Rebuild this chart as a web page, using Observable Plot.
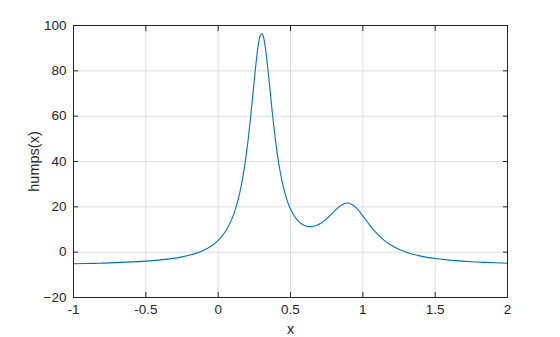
<!DOCTYPE html>
<html>
<head>
<meta charset="utf-8">
<script src="https://cdn.jsdelivr.net/npm/d3@7"></script>
<script src="https://cdn.jsdelivr.net/npm/@observablehq/plot@0.6"></script>
<style>
  html, body { margin: 0; padding: 0; background: #fff; }
  #chart { width: 560px; height: 337px; }
</style>
</head>
<body>
<div id="chart"></div>
<script>
const xs = [-1, -0.85, -0.75, -0.5, -0.4, -0.3, -0.25, -0.2, -0.15, -0.1, -0.05, 0, 0.05, 0.1, 0.125, 0.15, 0.175, 0.2, 0.225, 0.25, 0.275, 0.29, 0.3, 0.31, 0.325, 0.35, 0.375, 0.4, 0.425, 0.45, 0.475, 0.5, 0.55, 0.6, 0.65, 0.7, 0.75, 0.8, 0.85, 0.9, 0.95, 1.0, 1.05, 1.1, 1.15, 1.2, 1.25, 1.3, 1.4, 1.5, 1.6, 1.75, 1.85, 2.0];
const ys = [-5.14, -4.93, -4.74, -3.96, -3.42, -2.62, -2.07, -1.35, -0.42, 0.84, 2.61, 5.18, 9.11, 15.47, 20.18, 26.43, 34.79, 45.89, 60.02, 76.16, 90.44, 95.44, 96.5, 95.59, 90.82, 76.92, 61.17, 47.45, 36.79, 28.89, 23.15, 19.0, 13.95, 11.69, 11.30, 12.38, 14.71, 17.85, 20.73, 21.70, 19.84, 16.0, 11.75, 8.04, 5.12, 2.91, 1.25, -0.01, -1.73, -2.81, -3.53, -4.22, -4.52, -4.86];
const xTicks = [-1, -0.5, 0, 0.5, 1, 1.5, 2];
const xTickLabels = ["-1", "-0.5", "0", "0.5", "1", "1.5", "2"];
const yTicks = [-20, 0, 20, 40, 60, 80, 100];

const data = xs.map((x, i) => ({x, y: ys[i]}));
const font = "'Liberation Sans', Arial, sans-serif";

const chart = Plot.plot({
  width: 560,
  height: 337,
  marginLeft: 73,
  marginRight: 53,
  marginTop: 25,
  marginBottom: 40,
  style: {fontFamily: font, fontSize: "13px", color: "#262626", background: "#fff"},
  x: {domain: [-1, 2]},
  y: {domain: [-20, 100]},
  marks: [
    Plot.gridX(xTicks, {stroke: "#dedede", strokeOpacity: 1}),
    Plot.gridY(yTicks, {stroke: "#dedede", strokeOpacity: 1}),
    Plot.line(data, {x: "x", y: "y", stroke: "#0072bd", strokeWidth: 1.1, curve: "catmull-rom"}),
    Plot.frame({stroke: "#262626", strokeWidth: 1}),
    Plot.axisX(xTicks, {anchor: "bottom", tickSize: -5, tickPadding: 12, tickFormat: (d, i) => xTickLabels[i], fontSize: 13.5, label: null, stroke: "#262626"}),
    Plot.axisX([], {anchor: "bottom", tickSize: 0, text: null, label: "x", labelArrow: "none", labelAnchor: "center", labelOffset: 36, fontSize: 14.5}),
    Plot.axisX(xTicks, {anchor: "top", tickSize: -5, text: null, label: null, stroke: "#262626"}),
    Plot.axisY(yTicks, {anchor: "left", tickSize: -5, tickPadding: 12, fontSize: 13.5, label: null, stroke: "#262626"}),
    Plot.axisY([], {anchor: "left", tickSize: 0, text: null, label: "humps(x)", labelArrow: "none", labelAnchor: "center", labelOffset: 45, fontSize: 14.5}),
    Plot.axisY(yTicks, {anchor: "right", tickSize: -5, text: null, label: null, stroke: "#262626"})
  ]
});
document.getElementById("chart").appendChild(chart);
</script>
</body>
</html>
